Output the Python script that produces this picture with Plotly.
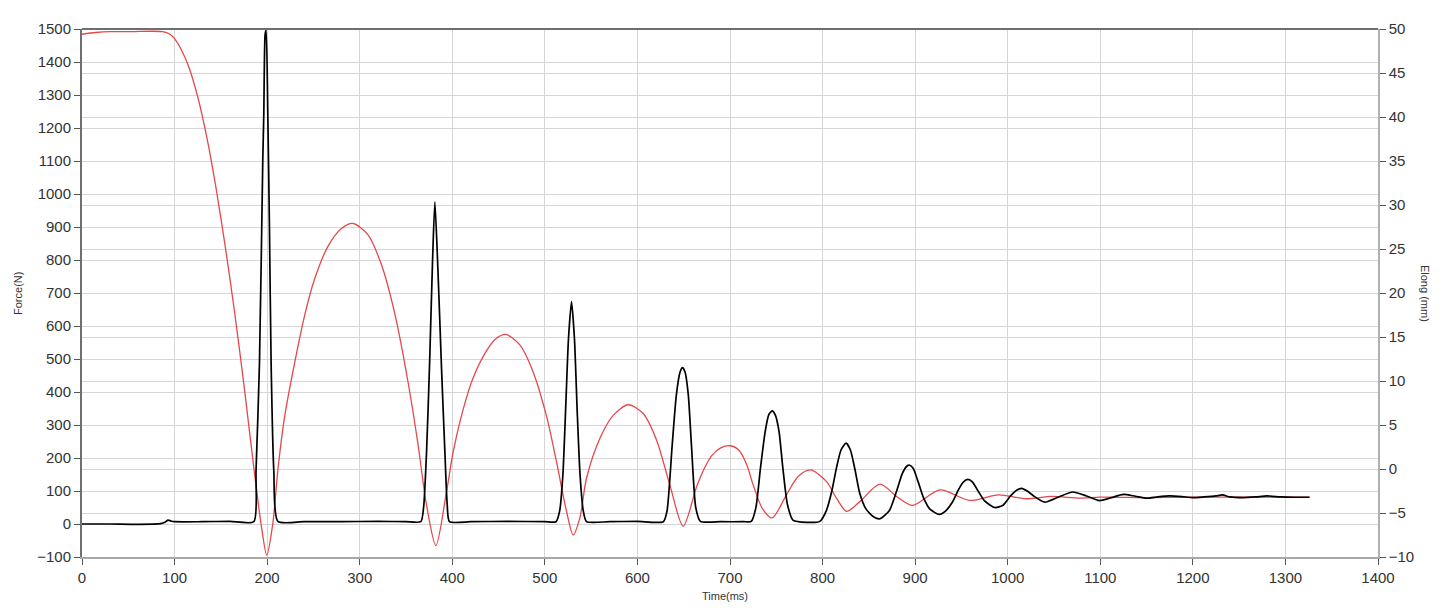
import plotly.graph_objects as go

# ---- Force (N), black trace, left axis ----
force_t = [0, 30, 60, 85, 90, 93, 96, 100, 130, 160,
           185.6, 188, 191.7, 195.3, 196.4, 197.8, 198.9, 200.7, 202.5, 204.3, 207.2, 211.6,
           240, 280, 320, 350,
           366, 369, 372.2, 375.5, 378.7, 381.2, 384.5, 388.4, 392, 394.5, 397,
           420, 460, 500,
           512, 516, 519.5, 522.3, 525.5, 528.8, 532, 535, 538, 541.5, 545,
           570, 600,
           628, 632, 637.5, 642, 646, 648.7, 651.5, 655, 658.4, 663, 668,
           690, 715,
           723, 728, 733, 738, 742, 745.5, 749, 753, 757, 762, 768,
           783, 797, 804, 810, 815, 820, 825.4, 830, 835, 840, 847, 855, 862,
           872, 880, 886, 891, 894, 898, 903, 909, 916, 926,
           933, 940, 947, 952, 957, 962, 968, 975, 986,
           995, 1003, 1010, 1015, 1021, 1028, 1040,
           1055, 1070, 1085, 1099, 1112, 1125, 1138, 1150, 1162, 1175, 1188, 1200,
           1212, 1225, 1232, 1240, 1254, 1268, 1280, 1295, 1310, 1326]
force_n = [0, 0, -1, 1, 6, 12, 9, 7, 7, 8,
           7, 161, 487, 1104, 1245, 1484, 1497, 1245, 898, 487, 161, 8,
           7, 7, 8, 7,
           7, 50, 218, 488, 800, 976, 769, 470, 218, 60, 7,
           7, 8, 7,
           7, 40, 150, 337, 560, 674, 560, 337, 150, 40, 7,
           7, 8,
           7, 40, 237, 390, 460, 474, 460, 390, 237, 50, 8,
           7, 7,
           8, 50, 172, 280, 332, 343, 330, 280, 172, 60, 12,
           5, 8, 40, 100, 170, 225, 245, 225, 165, 95, 45, 22, 16,
           40, 100, 152, 175, 178, 168, 130, 80, 45, 29,
           40, 65, 105, 127, 135, 127, 100, 70, 50,
           57, 85, 103, 108, 100, 85, 66,
           82, 97, 85, 71, 80, 90, 84, 78, 82, 85, 83, 80,
           82, 85, 88, 82, 80, 82, 85, 82, 81, 81]

# ---- Elong (mm), red trace, right axis ----
elong_t = [0, 15, 30, 53, 87, 95, 100, 107, 115, 125, 135, 145, 155, 165, 175,
           186, 193.5, 199.6, 206, 211.5, 218.8, 229.6, 240.4, 251, 265.7, 280, 292.8, 309,
           323.5, 338, 352, 363, 372, 382.3, 393.8, 401, 411.9, 422.7, 437.4, 447, 457.5, 473, 487.4,
           501.8, 512.6, 523.4, 530.6, 537.8, 545, 559.4, 573.8, 590, 606.2, 620.6, 635, 649.4,
           664, 672, 680, 690, 700, 710, 718, 725, 735, 745.5, 761, 773.6, 787, 804.3, 815, 826,
           840.5, 862, 880, 897.3, 926.6, 959, 990, 1020, 1047, 1078, 1100, 1150, 1200, 1250, 1326]
elong_mm = [49.4, 49.6, 49.7, 49.7, 49.7, 49.4, 48.9, 47.7, 45.8, 42.3, 37.6, 31.8, 25.1, 17.7, 9.5,
            -0.2, -6.3, -9.8, -6.3, -0.2, 5.9, 12.0, 17.4, 21.5, 25.3, 27.3, 27.9, 26.6,
            23.2, 17.6, 10.0, 2.8, -4.0, -8.7, -2.55, 1.96, 6.84, 10.4, 13.5, 14.8, 15.3, 14.1, 11.0,
            6.0, 0.8, -4.8, -7.5, -5.55, -1.05, 3.46, 6.1, 7.3, 6.3, 3.3, -1.8, -6.5,
            -2.0, 0.0, 1.5, 2.4, 2.64, 2.1, 0.5, -1.8, -4.5, -5.56, -2.93, -0.86, -0.11, -1.43, -3.31, -4.81,
            -3.68, -1.73, -3.12, -4.13, -2.37, -3.57, -2.93, -3.38, -3.12, -3.31, -3.2, -3.25, -3.2, -3.2, -3.2]

x_ticks = list(range(0, 1401, 100))
force_ticks = list(range(-100, 1501, 100))
elong_ticks = list(range(-10, 51, 5))

GRID = "#d6d6d6"
FONT = "Liberation Sans, Arial, sans-serif"
TICKFONT = dict(family=FONT, size=15, color="#333333")

fig = go.Figure()
fig.add_trace(go.Scatter(x=elong_t, y=elong_mm, mode="lines", name="Elong",
                         line=dict(color="#e5474b", width=1.3, shape="spline", smoothing=0.8),
                         yaxis="y"))
fig.add_trace(go.Scatter(x=force_t, y=force_n, mode="lines", name="Force",
                         line=dict(color="#000000", width=1.7, shape="spline", smoothing=0.6),
                         yaxis="y2"))

fig.update_layout(
    width=1437, height=600,
    margin=dict(l=74, r=67, t=16, b=51),
    paper_bgcolor="white", plot_bgcolor="white",
    showlegend=False,
    xaxis=dict(range=[0, 1400], tickvals=x_ticks, ticks="outside", ticklen=6, tickcolor="#555",
               showgrid=True, gridcolor=GRID, gridwidth=1, showline=True, linecolor="#a8a8a8",
               linewidth=1.5, tickfont=TICKFONT, zeroline=False),
    yaxis=dict(range=[-10, 50], tickvals=elong_ticks, side="right", ticks="outside", ticklen=6,
               tickcolor="#555", showgrid=True, gridcolor=GRID, gridwidth=1, showline=True,
               linecolor="#b0b0b0", linewidth=1.5, tickfont=TICKFONT, zeroline=False),
    yaxis2=dict(range=[-100, 1500], tickvals=force_ticks, side="left", overlaying="y",
                ticks="outside", ticklen=6, tickcolor="#555", showgrid=True, gridcolor=GRID,
                gridwidth=1, showline=True, linecolor="#707070", linewidth=2,
                tickfont=TICKFONT, zeroline=False),
    shapes=[dict(type="line", xref="paper", yref="paper", x0=0, x1=1, y0=1, y1=1,
                 line=dict(color="#6e6e6e", width=2))],
    annotations=[
        dict(text="Force(N)", xref="paper", yref="paper", x=-0.0494, y=0.5, showarrow=False,
             xanchor="center", yanchor="middle", textangle=-90,
             font=dict(family=FONT, size=11, color="#333")),
        dict(text="Elong (mm)", xref="paper", yref="paper", x=1.0363, y=0.5, showarrow=False,
             xanchor="center", yanchor="middle", textangle=90,
             font=dict(family=FONT, size=11, color="#333")),
        dict(text="Time(ms)", xref="paper", yref="paper", x=0.496, y=-0.073, showarrow=False,
             xanchor="center", yanchor="middle",
             font=dict(family=FONT, size=11, color="#333")),
    ],
)

fig.write_html("out.html")
